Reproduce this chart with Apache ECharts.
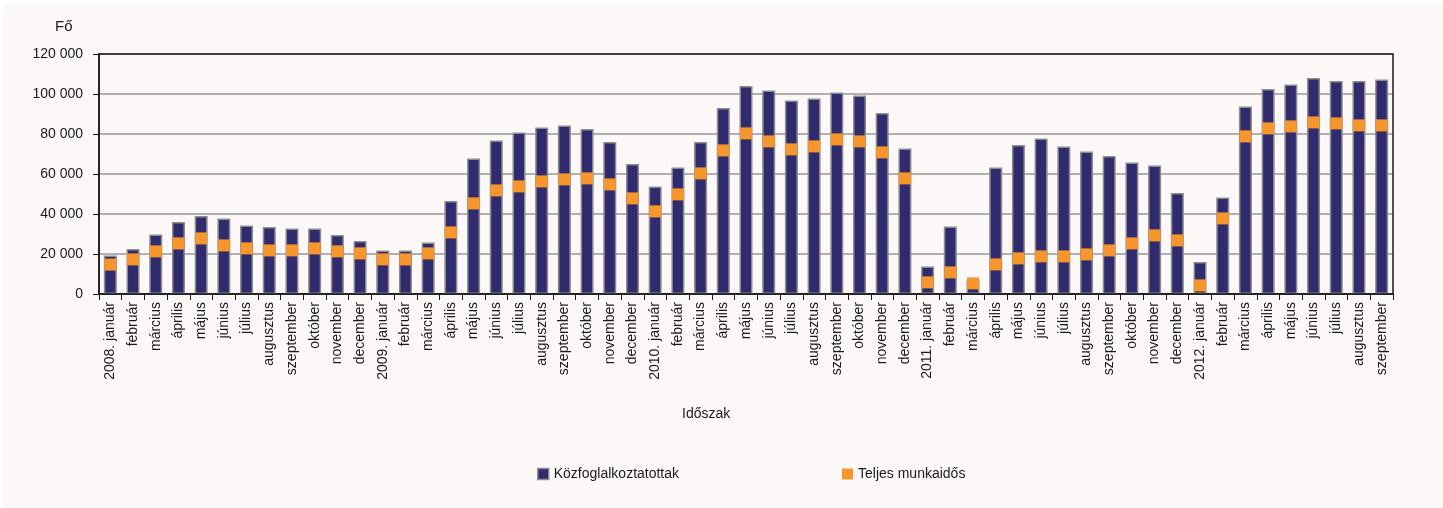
<!DOCTYPE html>
<html>
<head>
<meta charset="utf-8">
<script src="https://cdn.jsdelivr.net/npm/echarts@6/dist/echarts.min.js"></script>
<style>
html,body{margin:0;padding:0;background:#ffffff;}
#c{width:1443px;height:508px;}
</style>
</head>
<body>
<div id="c"></div>
<script>
const categories = [
  '2008. január','február','március','április','május','június','július','augusztus','szeptember','október','november','december',
  '2009. január','február','március','április','május','június','július','augusztus','szeptember','október','november','december',
  '2010. január','február','március','április','május','június','július','augusztus','szeptember','október','november','december',
  '2011. január','február','március','április','május','június','július','augusztus','szeptember','október','november','december',
  '2012. január','február','március','április','május','június','július','augusztus','szeptember'
];
const kozfoglalkoztatottak = [
  19300, 22500, 29700, 36000, 39000, 37700, 34300, 33500, 32800, 32800, 29500, 26500,
  21700, 21700, 25700, 46500, 67800, 76800, 80800, 83300, 84200, 82500, 76000, 65000,
  53700, 63300, 76000, 93000, 104000, 101700, 96800, 97700, 100800, 99200, 90500, 72800,
  13800, 33700, 6700, 63300, 74500, 77700, 73800, 71300, 69000, 65700, 64300, 50500,
  16000, 48200, 93800, 102500, 104800, 108000, 106500, 106500, 107300
];
const teljesMunkaidos = [
  14700, 17300, 21300, 25300, 27800, 24300, 22800, 21800, 21800, 22800, 21300, 20300,
  17300, 17300, 20300, 30800, 45300, 51800, 53800, 56300, 57300, 57800, 54800, 47800,
  41300, 49800, 60300, 71800, 80300, 76300, 72300, 73800, 77300, 76300, 70800, 57800,
  5800, 10800, 5300, 14800, 17800, 18800, 18800, 19800, 21800, 25300, 29300, 26800,
  4300, 37800, 78800, 82800, 83800, 85800, 85300, 84300, 84300
];
const yTicks = [0, 20000, 40000, 60000, 80000, 100000, 120000];

const font = 'Liberation Sans, Arial, sans-serif';
const chart = echarts.init(document.getElementById('c'), null, {renderer: 'canvas'});
const fmt = v => String(v).replace(/\B(?=(\d{3})+(?!\d))/g, ' ');

chart.setOption({
  backgroundColor: '#fcf8f8',
  animation: false,
  graphic: [
    {type: 'rect', shape: {x: 0, y: 0, width: 1443, height: 4}, style: {fill: '#ffffff'}, z: 100},
    {type: 'rect', shape: {x: 0, y: 0, width: 3, height: 508}, style: {fill: '#ffffff'}, z: 100},
    {type: 'text', left: 55, top: 19, style: {text: 'Fő', font: '15px ' + font, fill: '#1a1a1a'}},
    {type: 'text', left: 682, top: 407, style: {text: 'Időszak', font: '14px ' + font, fill: '#1a1a1a'}},
    {type: 'rect', shape: {x: 99, y: 54, width: 1294, height: 240}, style: {fill: 'none', stroke: '#1a1a1a', lineWidth: 1.5}, z: 5, silent: true}
  ],
  grid: {left: 99, right: 50, top: 54, bottom: 214, containLabel: false},
  legend: [
    {
      data: [{name: 'Közfoglalkoztatottak', itemStyle: {color: '#302a6e', borderColor: '#8c8c8c', borderWidth: 1.5}}],
      left: 532, top: 462, itemWidth: 11, itemHeight: 11, icon: 'rect',
      textStyle: {fontFamily: font, fontSize: 14, color: '#1a1a1a'}
    },
    {
      data: [{name: 'Teljes munkaidős', itemStyle: {color: '#f7962c'}}],
      left: 837, top: 462, itemWidth: 11, itemHeight: 11, icon: 'rect',
      textStyle: {fontFamily: font, fontSize: 14, color: '#1a1a1a'}
    }
  ],
  xAxis: {
    type: 'category',
    data: categories,
    axisLine: {lineStyle: {color: '#1a1a1a', width: 1.5}},
    axisTick: {show: true, alignWithLabel: false, length: 6, lineStyle: {color: '#1a1a1a'}},
    axisLabel: {rotate: 90, interval: 0, fontFamily: font, fontSize: 14, color: '#1a1a1a', margin: 8},
    splitLine: {show: false}
  },
  yAxis: {
    type: 'value',
    min: 0, max: 120000, interval: 20000,
    axisLine: {show: true, lineStyle: {color: '#1a1a1a', width: 1.5}},
    axisTick: {show: true, length: 6, lineStyle: {color: '#1a1a1a'}},
    axisLabel: {fontFamily: font, fontSize: 14, color: '#1a1a1a', margin: 16, formatter: v => fmt(v)},
    splitLine: {show: true, lineStyle: {color: '#999999', width: 1.5}}
  },
  series: [
    {
      name: 'Közfoglalkoztatottak',
      type: 'bar',
      data: kozfoglalkoztatottak,
      barWidth: 13,
      itemStyle: {color: '#302a6e', borderColor: '#8c8c8c', borderWidth: 1.5}
    },
    {
      name: 'Teljes munkaidős',
      type: 'scatter',
      data: teljesMunkaidos,
      symbol: 'rect',
      symbolSize: [12, 12],
      itemStyle: {color: '#f7962c', opacity: 1},
      z: 10
    }
  ]
});
</script>
</body>
</html>
